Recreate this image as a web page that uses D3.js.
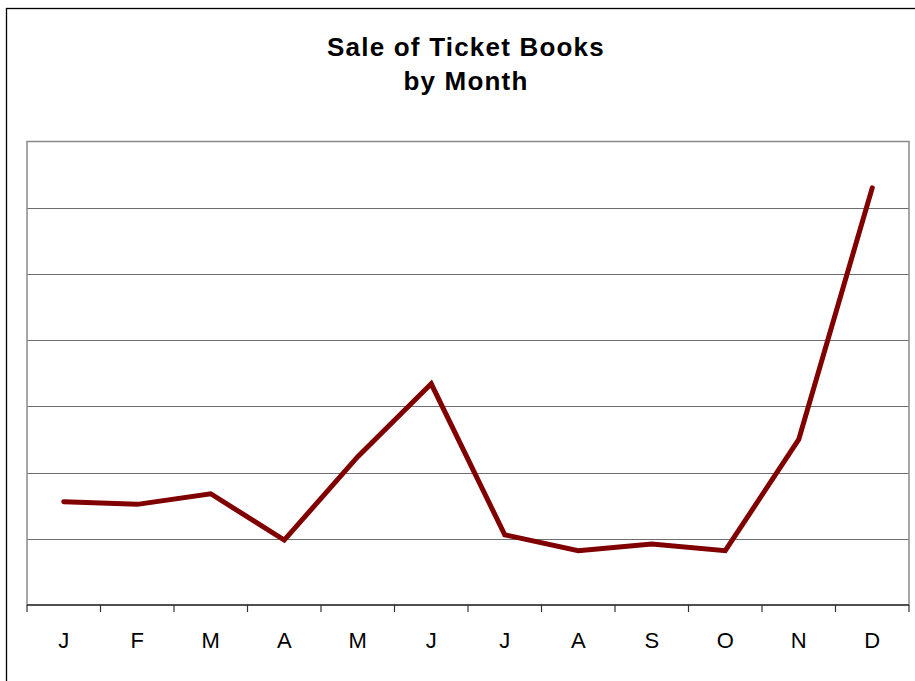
<!DOCTYPE html>
<html>
<head>
<meta charset="utf-8">
<script src="https://cdn.jsdelivr.net/npm/d3@7"></script>
<style>
  html, body { margin: 0; padding: 0; background: #fff; }
  svg { display: block; }
</style>
</head>
<body>
<svg id="chart" width="915" height="681"></svg>
<script>
// Monthly ticket book sales
const months = ["J", "F", "M", "A", "M", "J", "J", "A", "S", "O", "N", "D"];
const sales = [78, 76, 84, 49, 112, 167, 53, 41, 46, 41, 125, 315];
const gridTicks = [0, 50, 100, 150, 200, 250, 300, 350];
const titleLines = ["Sale of Ticket Books", "by Month"];

const svg = d3.select("#chart");
const W = 915, H = 681;
const plot = { left: 27, right: 909, top: 141.5, bottom: 605 };

// Outer chart frame (runs off the right and bottom edges)
svg.append("rect")
  .attr("x", 6.5).attr("y", 8.5)
  .attr("width", 930).attr("height", 700)
  .attr("fill", "#fff")
  .attr("stroke", "#000")
  .attr("stroke-width", 1.3);

// Title
const title = svg.append("text")
  .attr("text-anchor", "middle")
  .attr("font-family", "Liberation Sans, Arial, sans-serif")
  .attr("font-weight", "bold")
  .attr("font-size", 26)
  .attr("letter-spacing", 1.2)
  .attr("fill", "#000");
title.selectAll("tspan")
  .data(titleLines)
  .join("tspan")
  .attr("x", 466)
  .attr("y", (d, i) => 56 + i * 34)
  .text(d => d);

const x = d3.scaleBand()
  .domain(d3.range(months.length))
  .range([plot.left, plot.right]);

const y = d3.scaleLinear()
  .domain([0, 350])
  .range([plot.bottom, plot.top]);

// Horizontal gridlines
svg.append("g")
  .selectAll("line")
  .data(gridTicks.filter(t => t > 0 && t < 350))
  .join("line")
  .attr("x1", plot.left).attr("x2", plot.right)
  .attr("y1", d => Math.round(y(d)) + 0.5)
  .attr("y2", d => Math.round(y(d)) + 0.5)
  .attr("stroke", "#6e6e6e")
  .attr("stroke-width", 1.2);

// Plot area border
svg.append("rect")
  .attr("x", plot.left).attr("y", plot.top)
  .attr("width", plot.right - plot.left)
  .attr("height", plot.bottom - plot.top)
  .attr("fill", "none")
  .attr("stroke", "#8a8a8a")
  .attr("stroke-width", 1.5);

// Category axis
const xAxis = svg.append("g")
  .attr("transform", `translate(0,${plot.bottom})`);
xAxis.append("line")
  .attr("x1", plot.left).attr("x2", plot.right)
  .attr("stroke", "#333").attr("stroke-width", 1.3);
const boundaries = d3.range(months.length + 1).map(i =>
  i < months.length ? x(i) : x(months.length - 1) + x.bandwidth());
xAxis.selectAll("line.tick")
  .data(boundaries)
  .join("line")
  .attr("class", "tick")
  .attr("x1", d => d).attr("x2", d => d)
  .attr("y1", 0).attr("y2", 7)
  .attr("stroke", "#333").attr("stroke-width", 1.2);
xAxis.selectAll("text")
  .data(months)
  .join("text")
  .attr("x", (d, i) => x(i) + x.bandwidth() / 2)
  .attr("y", 43)
  .attr("text-anchor", "middle")
  .attr("font-family", "Liberation Sans, Arial, sans-serif")
  .attr("font-size", 22)
  .attr("fill", "#000")
  .text(d => d);

// Sales line
const line = d3.line()
  .x((d, i) => x(i) + x.bandwidth() / 2)
  .y(d => y(d));
svg.append("path")
  .datum(sales)
  .attr("d", line)
  .attr("fill", "none")
  .attr("stroke", "#800000")
  .attr("stroke-width", 5)
  .attr("stroke-linejoin", "miter")
  .attr("stroke-linecap", "round");
</script>
</body>
</html>
